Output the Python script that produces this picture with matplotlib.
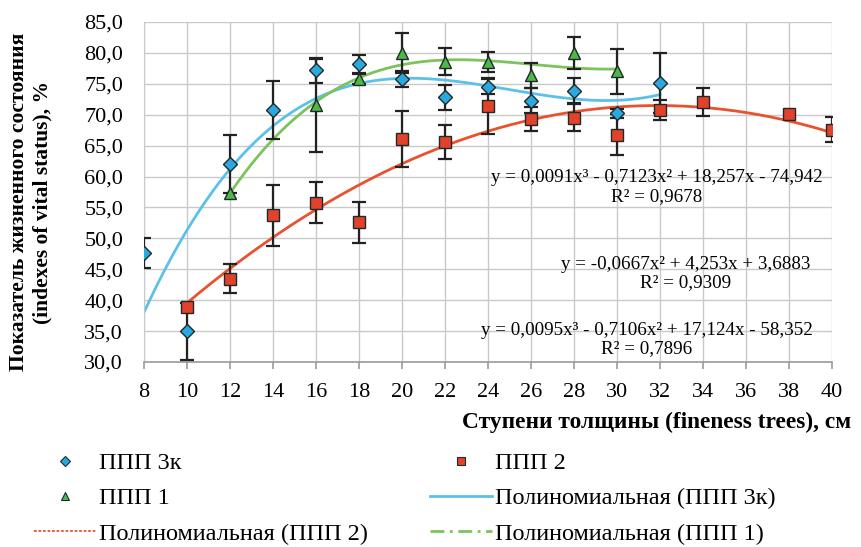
import numpy as np
import matplotlib
matplotlib.use("Agg")
import matplotlib.pyplot as plt
from matplotlib.lines import Line2D

plt.rcParams['font.family'] = ['Liberation Serif', 'DejaVu Serif']

# ---- data ----
x_3k = [8, 10, 12, 14, 16, 18, 20, 22, 24, 26, 28, 30, 32]
y_3k = [47.6, 35.0, 62.0, 70.7, 77.2, 78.2, 75.8, 72.8, 74.5, 72.3, 73.9, 70.2, 75.1]
e_3k = [2.4, 4.6, 4.7, 4.7, 2.0, 1.5, 1.3, 2.0, 1.2, 2.0, 2.0, 0.8, 4.9]

x_2 = [10, 12, 14, 16, 18, 20, 22, 24, 26, 28, 30, 32, 34, 38, 40]
y_2 = [38.9, 43.5, 53.7, 55.8, 52.6, 66.1, 65.6, 71.4, 69.3, 69.5, 66.8, 70.8, 72.1, 70.1, 67.6]
e_2 = [0.0, 2.3, 4.9, 3.3, 3.3, 4.5, 2.7, 4.5, 2.0, 2.2, 3.3, 1.6, 2.3, 0.0, 2.0]

x_1 = [12, 16, 18, 20, 22, 24, 26, 28, 30]
y_1 = [57.4, 71.5, 75.8, 80.0, 78.6, 78.5, 76.4, 80.0, 77.0]
e_1 = [0.0, 7.5, 0.8, 3.2, 2.2, 1.6, 2.0, 2.6, 3.7]

# trend line coefficients (from chart equations)
coef_3k = [0.0095, -0.7106, 17.124, -58.352]
coef_2 = [-0.0667, 4.253, 3.6883]
coef_1 = [0.0091, -0.7123, 18.257, -74.942]
range_3k = (8, 32)
range_2 = (10, 40)
range_1 = (12, 30)

eq_1 = "y = 0,0091x³ - 0,7123x² + 18,257x - 74,942\nR² = 0,9678"
eq_2 = "y = -0,0667x² + 4,253x + 3,6883\nR² = 0,9309"
eq_3k = "y = 0,0095x³ - 0,7106x² + 17,124x - 58,352\nR² = 0,7896"

xticks = list(range(8, 41, 2))
yticks = list(range(30, 86, 5))

# ---- styles ----
c_blue_m, c_blue_l = '#2AA9DF', '#5CC1E8'
c_red_m, c_red_l = '#E2412A', '#E9522F'
c_green_m, c_green_l = '#4DB748', '#7DC35B'
edge = '#1E2A2A'

fig = plt.figure(figsize=(8.61, 5.47), dpi=100)
ax = fig.add_axes([144/861, 1-362/547, (832-144)/861, (362-22)/547])

ax.set_xlim(8, 40)
ax.set_ylim(30, 85)
ax.set_xticks(xticks)
ax.set_yticks(yticks)
ax.set_yticklabels([f"{v:.1f}".replace('.', ',') for v in yticks], fontsize=16)
ax.set_xticklabels([str(v) for v in xticks], fontsize=16)
ax.grid(True, color='#C9C9C9', lw=1.0)
ax.set_axisbelow(True)
for s in ax.spines.values():
    s.set_visible(False)
ax.spines['bottom'].set_visible(True)
ax.spines['bottom'].set_color('#9A9A9A')
ax.spines['bottom'].set_linewidth(1.2)
ax.spines['left'].set_visible(True)
ax.spines['left'].set_color('#C9C9C9')
ax.tick_params(axis='x', direction='out', length=5, color='#9A9A9A', width=1.2, pad=10)
ax.tick_params(axis='y', length=0, pad=15)

# trend lines
for coef, rng, col in [(coef_3k, range_3k, c_blue_l), (coef_2, range_2, c_red_l), (coef_1, range_1, c_green_l)]:
    xx = np.linspace(rng[0], rng[1], 300)
    ax.plot(xx, np.polyval(coef, xx), color=col, lw=2.0, zorder=2)

# error bars
for xs, ys, es in [(x_3k, y_3k, e_3k), (x_2, y_2, e_2), (x_1, y_1, e_1)]:
    xs_e = [a for a, e in zip(xs, es) if e > 0]
    ys_e = [b for b, e in zip(ys, es) if e > 0]
    es_e = [e for e in es if e > 0]
    ax.errorbar(xs_e, ys_e, yerr=es_e, fmt='none', ecolor='#222222', elinewidth=1.6,
                capsize=5, capthick=1.6, zorder=3)

ax.plot(x_3k, y_3k, ls='none', marker='D', ms=7.5, mfc=c_blue_m, mec=edge, mew=1.0, zorder=4)
ax.plot(x_2, y_2, ls='none', marker='s', ms=8, mfc=c_red_m, mec=edge, mew=1.0, zorder=4)
ax.plot(x_1, y_1, ls='none', marker='^', ms=9, mfc=c_green_m, mec=edge, mew=1.0, zorder=4)

# equations
ax.text(31.86, 58.3, eq_1, ha='center', va='center', fontsize=13.7, linespacing=1.1, zorder=5)
ax.text(33.2, 44.3, eq_2, ha='center', va='center', fontsize=13.7, linespacing=1.1, zorder=5)
ax.text(31.4, 33.6, eq_3k, ha='center', va='center', fontsize=13.7, linespacing=1.1, zorder=5)

# axis labels
fig.text(851/861, 1-422/547, "Ступени толщины (fineness trees), см", ha='right', va='center',
         fontsize=16.8, fontweight='bold')
fig.text(31/861, 1-202/547, "Показатель жизненного состояния\n(indexes of vital status), %",
         ha='center', va='center', rotation=90, fontsize=15.5, fontweight='bold', linespacing=1.2)

# legends
h_3k = Line2D([], [], ls='none', marker='D', ms=5, mfc=c_blue_m, mec=edge, mew=0.8)
h_2 = Line2D([], [], ls='none', marker='s', ms=6, mfc=c_red_m, mec=edge, mew=0.8)
h_1 = Line2D([], [], ls='none', marker='^', ms=6, mfc=c_green_m, mec=edge, mew=0.8)
h_p2 = Line2D([], [], color=c_red_l, lw=1.3, ls=(0, (1.5, 1)))
h_p3k = Line2D([], [], color=c_blue_l, lw=2.0, ls='-')
h_p1 = Line2D([], [], color=c_green_l, lw=2.0, ls=(0, (5, 2, 1, 2)))

kw = dict(frameon=False, fontsize=17.5, handlelength=2.55, handletextpad=0.12,
          labelspacing=0.55, borderaxespad=0, borderpad=0, loc='upper left')
fig.legend([h_3k, h_1, h_p2], ["ППП 3к", "ППП 1", "Полиномиальная (ППП 2)"],
           bbox_to_anchor=(34/861, 1-452/547), **kw)
fig.legend([h_2, h_p3k, h_p1], ["ППП 2", "Полиномиальная (ППП 3к)", "Полиномиальная (ППП 1)"],
           bbox_to_anchor=(430/861, 1-452/547), **kw)

fig.savefig("out.png", dpi=100)
